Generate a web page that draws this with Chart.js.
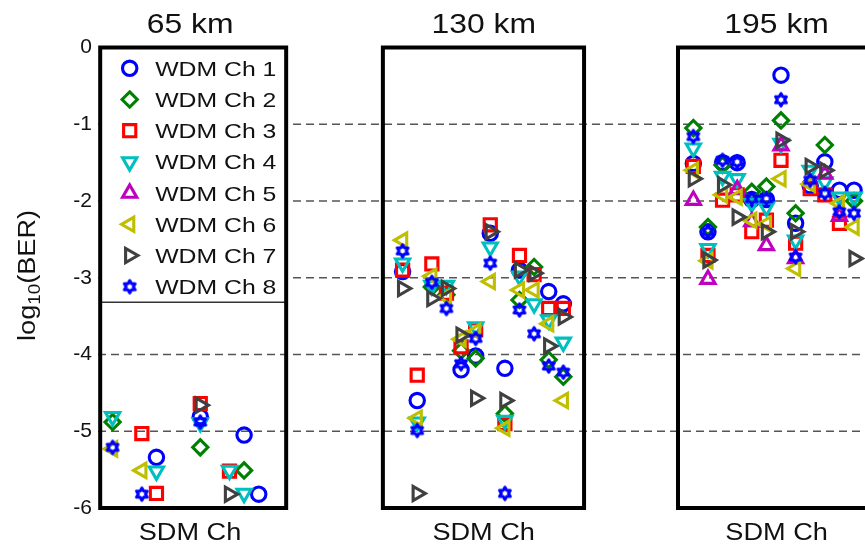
<!DOCTYPE html>
<html>
<head>
<meta charset="utf-8">
<script src="https://cdn.jsdelivr.net/npm/chart.js@4.4.1/dist/chart.umd.min.js"></script>
<style>
  html, body { margin: 0; padding: 0; background: #fff; overflow: hidden; }
  #wrap { width: 865px; height: 545px; position: relative; }
  #c { display: block; width: 865px; height: 545px; }
</style>
</head>
<body>
<div id="wrap"><canvas id="c" width="865" height="545"></canvas></div>
<script>
const N = null;

// SDM channel index inside each span panel
const sdmChannels = [1, 2, 3, 4, 5, 6, 7, 8, 9, 10, 11, 12];
const spanLabels = ['65 km', '130 km', '195 km'];
const wdmLabels = ['WDM Ch 1', 'WDM Ch 2', 'WDM Ch 3', 'WDM Ch 4',
                   'WDM Ch 5', 'WDM Ch 6', 'WDM Ch 7', 'WDM Ch 8'];
const yTicks = [0, -1, -2, -3, -4, -5, -6];
const xAxisLabel = 'SDM Ch';

// log10(BER) per SDM channel, 65 km (null = no errors counted)
const km65_w1 = [N, N, N, -5.34, N, N, -4.81, N, N, -5.05, -5.82, N];
const km65_w2 = [-4.88, N, N, N, N, N, -5.21, N, N, -5.51, N, N];
const km65_w3 = [N, N, -5.03, -5.81, N, N, -4.64, N, -5.52, N, N, N];
const km65_w4 = [-4.81, N, N, -5.52, N, N, -4.89, N, -5.51, -5.81, N, N];
const km65_w5 = [N, N, N, N, N, N, N, N, N, N, N, N];
const km65_w6 = [-5.23, N, -5.51, N, N, N, N, N, N, N, N, N];
const km65_w7 = [N, N, N, N, N, N, -4.66, N, -5.82, N, N, N];
const km65_w8 = [-5.21, N, -5.82, N, N, N, -4.88, N, N, N, N, N];

// log10(BER) per SDM channel, 130 km
const km130_w1 = [-2.92, -4.60, N, N, -4.20, -4.02, -2.42, -4.18, -2.90, N, -3.18, -3.34];
const km130_w2 = [N, N, -3.12, -3.22, -3.95, -4.05, N, -4.77, -3.29, -2.86, -4.07, -4.29];
const km130_w3 = [-2.90, -4.27, -2.82, -3.20, -3.90, -3.68, -2.31, -4.90, -2.71, -2.96, -3.40, -3.40];
const km130_w4 = [-2.81, -4.88, -3.10, -3.10, N, -3.64, -2.60, -4.86, -2.98, -3.34, -3.55, -3.84];
const km130_w5 = [N, N, N, N, N, N, N, N, N, N, N, N];
const km130_w6 = [-2.51, -4.83, -2.98, -3.25, -3.80, -3.70, -3.05, -4.96, -3.16, -3.16, -3.60, -4.60];
const km130_w7 = [-3.14, -5.81, -3.27, -3.14, -3.75, -4.57, -2.40, -4.60, -2.90, -2.94, -3.89, -3.51];
const km130_w8 = [-2.65, -4.99, -3.06, -3.40, -4.12, -3.79, -2.81, -5.81, -3.42, -3.73, -4.15, -4.23];

// log10(BER) per SDM channel, 195 km
const km195_w1 = [-1.51, -2.40, -1.50, -1.50, -1.98, -1.98, -0.36, -2.29, -1.80, -1.49, -1.86, -1.86];
const km195_w2 = [-1.05, -2.34, -1.53, N, -1.88, -1.81, -0.95, -2.16, N, -1.27, N, -2.00];
const km195_w3 = [-1.55, -2.71, -1.99, -1.92, -2.40, -2.25, -1.47, -2.55, -1.84, -1.92, -2.29, N];
const km195_w4 = [-1.31, -2.62, -1.68, -1.71, -2.03, -2.08, -1.25, -2.51, -1.60, -1.75, -1.95, -1.95];
const km195_w5 = [-1.99, -3.02, N, -1.85, -2.27, -2.58, -1.28, -2.75, N, -1.65, -2.20, N];
const km195_w6 = [-1.60, -2.78, -1.92, -1.95, -2.25, -2.30, -1.71, -2.88, -1.78, N, -2.03, -2.34];
const km195_w7 = [-1.71, -2.77, -1.79, -2.21, N, -2.40, -1.21, -2.40, -1.55, -1.60, N, -2.75];
const km195_w8 = [-1.16, -2.40, -1.47, -1.49, -1.97, -1.97, -0.68, -2.73, -1.73, -1.90, -2.14, -2.16];

const spans = [
  [km65_w1, km65_w2, km65_w3, km65_w4, km65_w5, km65_w6, km65_w7, km65_w8],
  [km130_w1, km130_w2, km130_w3, km130_w4, km130_w5, km130_w6, km130_w7, km130_w8],
  [km195_w1, km195_w2, km195_w3, km195_w4, km195_w5, km195_w6, km195_w7, km195_w8]
];

// ---- layout: all three panels share one x scale, each panel shifted along it ----
const X_MAX = 52.5;
const panelOffset = [0, 19.85, 39.75];           // x of "SDM channel 0" in each panel
const panelBox = [[0.15, 12.88], [19.5, 33.27], [39.7, 52.85]];
const labelCenter = [6.3, 26.4, 46.45];           // text centres in x-scale units
const LEGEND_BOTTOM = -3.32;

const FONT = '"Liberation Sans", Arial, Helvetica, sans-serif';
const TEXT_COLOR = '#111';
const SX = 1.18;                                  // horizontal text stretch
const LW = 3.1;                                   // marker line width

// six-pointed star marker
const hexagram = (() => {
  const c = document.createElement('canvas');
  c.width = 20; c.height = 20;
  const g = c.getContext('2d');
  g.strokeStyle = '#0000ff';
  g.lineWidth = 3;
  g.lineJoin = 'round';
  g.beginPath();
  for (let i = 0; i < 12; i++) {
    const a = -Math.PI / 2 + i * Math.PI / 6;
    const rr = i % 2 === 0 ? 6.2 : 3.6;
    const px = 10 + rr * Math.cos(a), py = 10 + rr * Math.sin(a);
    if (i) g.lineTo(px, py); else g.moveTo(px, py);
  }
  g.closePath();
  g.stroke();
  return c;
})();

const markers = [
  { color: '#0000ff', style: 'circle',   rot: 0,   r: 7.2 },
  { color: '#008000', style: 'rectRot',  rot: 0,   r: 7.6 },
  { color: '#ff0000', style: 'rect',     rot: 0,   r: 8.6 },
  { color: '#00bfbf', style: 'triangle', rot: 180, r: 8.2 },
  { color: '#bf00bf', style: 'triangle', rot: 0,   r: 8.2 },
  { color: '#bfbf00', style: 'triangle', rot: 270, r: 8.2 },
  { color: '#404040', style: 'triangle', rot: 90,  r: 8.2 },
  { color: '#0000ff', style: hexagram,   rot: 0,   r: 8 }
];

function pointsFor(w) {
  const pts = [];
  spans.forEach((span, p) => {
    span[w].forEach((v, i) => {
      if (v !== null) pts.push({ x: panelOffset[p] + sdmChannels[i], y: v });
    });
  });
  return pts;
}

const datasets = wdmLabels.map((label, w) => ({
  label,
  data: pointsFor(w),
  order: wdmLabels.length - w,          // higher WDM channel drawn on top
  showLine: false,
  pointStyle: markers[w].style,
  rotation: markers[w].rot,
  pointRadius: markers[w].r,
  pointHoverRadius: markers[w].r,
  pointBorderColor: markers[w].color,
  pointBackgroundColor: 'rgba(0,0,0,0)',
  pointBorderWidth: LW,
  clip: false
}));

function stretchedText(ctx, text, x, y, size, align) {
  ctx.save();
  ctx.font = size + 'px ' + FONT;
  ctx.fillStyle = TEXT_COLOR;
  ctx.textBaseline = 'alphabetic';
  const w = ctx.measureText(text).width * SX;
  let x0 = x;
  if (align === 'center') x0 = x - w / 2;
  ctx.translate(x0, y);
  ctx.scale(SX, 1);
  ctx.textAlign = 'left';
  ctx.fillText(text, 0, 0);
  ctx.restore();
}

function drawMarker(ctx, m, x, y) {
  ctx.save();
  ctx.translate(x, y);
  if (m.style instanceof HTMLCanvasElement) {
    ctx.drawImage(m.style, -m.style.width / 2, -m.style.height / 2);
    ctx.restore();
    return;
  }
  ctx.strokeStyle = m.color;
  ctx.lineWidth = LW;
  ctx.rotate(m.rot * Math.PI / 180);
  ctx.beginPath();
  if (m.style === 'circle') {
    ctx.arc(0, 0, m.r, 0, 2 * Math.PI);
  } else if (m.style === 'rect') {
    const s = m.r * Math.SQRT1_2;
    ctx.rect(-s, -s, 2 * s, 2 * s);
  } else if (m.style === 'rectRot') {
    ctx.moveTo(0, -m.r); ctx.lineTo(m.r, 0); ctx.lineTo(0, m.r); ctx.lineTo(-m.r, 0);
    ctx.closePath();
  } else {
    for (let i = 0; i < 3; i++) {
      const a = i * 2 * Math.PI / 3;
      const px = Math.sin(a) * m.r, py = -Math.cos(a) * m.r;
      if (i) ctx.lineTo(px, py); else ctx.moveTo(px, py);
    }
    ctx.closePath();
  }
  ctx.stroke();
  ctx.restore();
}

const panelsPlugin = {
  id: 'panels',
  beforeDatasetsDraw(chart) {
    const { ctx, scales: { x, y } } = chart;
    ctx.save();
    ctx.strokeStyle = '#555';
    ctx.lineWidth = 1.4;
    ctx.setLineDash([8, 5]);
    yTicks.filter(t => t !== 0 && t !== -6).forEach(t => {
      const py = y.getPixelForValue(t);
      ctx.beginPath();
      ctx.moveTo(x.getPixelForValue(0), py);
      ctx.lineTo(x.getPixelForValue(X_MAX), py);
      ctx.stroke();
    });
    ctx.restore();
  },
  afterDatasetsDraw(chart) {
    const { ctx, scales: { x, y } } = chart;
    const top = y.getPixelForValue(0), bottom = y.getPixelForValue(-6);

    // legend inside the first panel
    const lx0 = x.getPixelForValue(panelBox[0][0]);
    const lx1 = x.getPixelForValue(panelBox[0][1]);
    const lyb = y.getPixelForValue(LEGEND_BOTTOM);
    ctx.save();
    ctx.fillStyle = '#fff';
    ctx.fillRect(lx0, top, lx1 - lx0, lyb - top);
    ctx.strokeStyle = '#333';
    ctx.lineWidth = 1.5;
    ctx.beginPath();
    ctx.moveTo(lx0, lyb);
    ctx.lineTo(lx1, lyb);
    ctx.stroke();
    ctx.restore();
    wdmLabels.forEach((label, w) => {
      const cy = top + 20.8 + w * 31.2;
      drawMarker(ctx, markers[w], lx0 + 29.5, cy);
      stretchedText(ctx, label, lx0 + 55, cy + 7.5, 21, 'left');
    });

    // panel frames
    ctx.save();
    ctx.strokeStyle = '#000';
    ctx.lineWidth = 4;
    ctx.lineJoin = 'miter';
    panelBox.forEach(([a, b]) => {
      const px0 = x.getPixelForValue(a), px1 = x.getPixelForValue(b);
      ctx.strokeRect(px0, top, px1 - px0, bottom - top);
    });
    ctx.restore();
  },
  afterDraw(chart) {
    const { ctx, scales: { x, y } } = chart;
    spanLabels.forEach((t, p) => {
      const cx = x.getPixelForValue(labelCenter[p]);
      stretchedText(ctx, t, cx, 33, 27, 'center');
      stretchedText(ctx, xAxisLabel, cx, 540, 23, 'center');
    });

    // y-axis title: log10(BER)
    const parts = [
      { t: 'log', size: 23, dy: 0 },
      { t: '10', size: 16, dy: 5 },
      { t: '(BER)', size: 23, dy: 0 }
    ];
    ctx.save();
    let total = 0;
    parts.forEach(pt => { ctx.font = pt.size + 'px ' + FONT; pt.w = ctx.measureText(pt.t).width; total += pt.w; });
    const cy = y.getPixelForValue(-2.97);
    ctx.translate(35, cy);
    ctx.rotate(-Math.PI / 2);
    ctx.scale(SX, 1);
    ctx.fillStyle = TEXT_COLOR;
    let cx = -total / 2;
    parts.forEach(pt => {
      ctx.font = pt.size + 'px ' + FONT;
      ctx.fillText(pt.t, cx, pt.dy);
      cx += pt.w;
    });
    ctx.restore();
  }
};

new Chart(document.getElementById('c'), {
  type: 'scatter',
  data: { datasets },
  options: {
    responsive: false,
    animation: false,
    events: [],
    layout: { autoPadding: false, padding: { top: 47.5, bottom: 37, left: 0, right: 0 } },
    plugins: { legend: { display: false }, tooltip: { enabled: false } },
    scales: {
      x: { type: 'linear', min: 0, max: X_MAX, display: false },
      y: {
        type: 'linear', min: -6, max: 0,
        afterFit: s => { s.width = 98; },
        afterBuildTicks: s => { s.ticks = yTicks.map(v => ({ value: v })); },
        grid: { display: false, drawTicks: false },
        border: { display: false },
        ticks: {
          padding: 6,
          color: TEXT_COLOR,
          font: { family: FONT, size: 21 },
          callback: v => String(v)
        }
      }
    }
  },
  plugins: [panelsPlugin]
});
</script>
</body>
</html>
